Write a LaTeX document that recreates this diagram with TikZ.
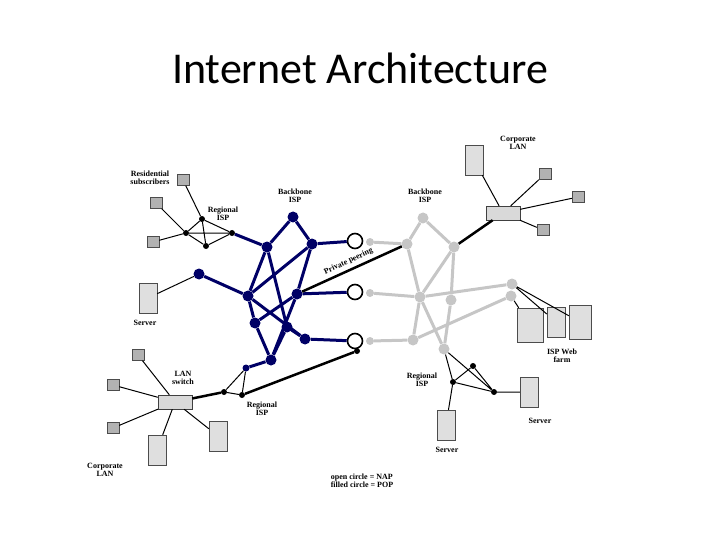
\documentclass[tikz,border=0pt]{standalone}
\usepackage{fontspec}
\newfontfamily\titlefont{Carlito}
\setmainfont{Liberation Serif}
\begin{document}
\begin{tikzpicture}[x=1pt,y=-1pt,
    blue line/.style = {line width = 3pt, draw = blue!40!black},
    gray line/.style = {line width = 3pt, draw = gray!45},
    thin line/.style = {line width = 1pt},
    bpop/.style = {circle, fill = blue!40!black, inner sep = 0pt, minimum size = 11pt},
    gpop/.style = {circle, fill = gray!45, inner sep = 0pt, minimum size = 11pt},
    kpop/.style = {circle, fill = black, inner sep = 0pt, minimum size = 6pt},
    nap/.style = {circle, draw, line width = 1.6pt, fill = white, inner sep = 0pt, minimum size = 15pt},
    lbl/.style = {font = \bfseries\fontsize{8}{8.5}\selectfont, align = center},
    pc/.style = {draw = gray!60!black, fill = gray!60, minimum width = 12pt, minimum height = 11pt, inner sep = 0pt},
    server/.style = {draw = gray!60!black, fill = gray!25, minimum width = 18pt, minimum height = 30pt, inner sep = 0pt},
    switch/.style = {draw = gray!50!black, fill = gray!30, minimum width = 34pt, minimum height = 14pt, inner sep = 0pt},
]
\useasboundingbox (0,0) rectangle (720,540);
\node (title) at (360,68) {\titlefont\fontsize{44}{48}\selectfont Internet Architecture};

% left regional ISP and residential subscribers
\node (pcA) [pc] at (183,180) {};
\node (pcB) [pc] at (156,203) {};
\node (pcC) [pc] at (153,242) {};
\node (ra) [kpop] at (202,219) {};
\node (rb) [kpop] at (186,233) {};
\node (rc) [kpop] at (206,246) {};
\node (rd) [kpop] at (232,233) {};
\node [lbl] at (150,178) {Residential\\subscribers};
\node [lbl] at (223,214) {Regional\\ISP};
\draw [thin line] (pcA) -- (ra) (pcB) -- (rb) (pcC) -- (rb)
    (ra) -- (rb) (ra) -- (rc) (ra) -- (rd) (rb) -- (rc) (rb) -- (rd) (rc) -- (rd);

% left server
\node (srvL) [server] at (148,298) {};
\node [lbl] at (145,323) {Server};

% blue backbone
\node [lbl] at (295,196) {Backbone\\ISP};
\node (b1) [bpop] at (293,217) {};
\node (b2) [bpop] at (267,247) {};
\node (b3) [bpop] at (312,244) {};
\node (b4) [bpop] at (199,274) {};
\node (b5) [bpop] at (248,296) {};
\node (b6) [bpop] at (297,294) {};
\node (b7) [bpop] at (255,323) {};
\node (b8) [bpop] at (287,327) {};
\node (b9) [bpop] at (305,339) {};
\node (b10) [bpop] at (271,360) {};
\node (b11) [kpop, fill = blue!40!black, minimum size = 7pt] at (246,368) {};
\draw [thin line] (srvL) -- (b4);

% gray backbone
\node [lbl] at (425,196) {Backbone\\ISP};
\node (g0a) [gpop, minimum size = 8pt] at (370,242) {};
\node (g0b) [gpop, minimum size = 8pt] at (370,293) {};
\node (g0c) [gpop, minimum size = 8pt] at (370,341) {};
\node (g1) [gpop] at (423,218) {};
\node (g2) [gpop] at (407,244) {};
\node (g3) [gpop] at (454,247) {};
\node (g4) [gpop] at (420,297) {};
\node (g5) [gpop] at (451,300) {};
\node (g6) [gpop] at (413,340) {};
\node (g7) [gpop] at (444,349) {};
\node (g8) [gpop] at (512,284) {};
\node (g9) [gpop] at (511,296) {};
\draw [gray line] (g0a) -- (g2) -- (g1) -- (g3) -- (g4) -- (g2)
    (g3) -- (g5) -- (g7) -- (g4) -- (g6) -- (g9)
    (g0b) -- (g4) -- (g8) (g0c) -- (g6);

% NAPs
\node (n1) [nap] at (355,241) {};
\node (n2) [nap] at (355,292) {};
\node (n3) [nap] at (355,341) {};

\draw [blue line] (rd) -- (b2) -- (b1) -- (b3) -- (n1)
    (b2) -- (b5) (b2) -- (b8) (b3) -- (b5) (b3) -- (b6)
    (b4) -- (b5) -- (b7) (b5) -- (b9) -- (n3) (b6) -- (n2)
    (b6) -- (b7) (b6) -- (b10) (b7) -- (b10) (b8) -- (b10) (b8) -- (b9)
    (b10) -- (b11);

% private peering
\draw [line width = 2.5pt] (b6) -- node [sloped, above, font = \bfseries\fontsize{8}{8}\selectfont] {Private peering} (g2);

% lower left corporate LAN
\node (sw1) [switch] at (175,402) {};
\node [lbl] at (183,378) {LAN\\switch};
\node (pcD) [pc] at (138,355) {};
\node (pcE) [pc] at (113,385) {};
\node (pcF) [pc] at (113,428) {};
\node (srvD) [server] at (157,450) {};
\node (srvE) [server] at (218,436) {};
\node [lbl] at (105,470) {Corporate\\LAN};
\node (la) [kpop] at (224,392) {};
\node (lb) [kpop] at (242,395) {};
\node (lc) [kpop] at (357,351) {};
\node [lbl] at (262,409) {Regional\\ISP};
\draw [thin line] (pcD) -- (sw1) (pcE) -- (sw1) (pcF) -- (sw1) (srvD) -- (sw1) (srvE) -- (sw1)
    (la) -- (b11) -- (lb) -- (la);
\draw [line width = 2.5pt] (sw1) -- (la) (lb) -- (lc);

% upper right corporate LAN
\node (sw2) [switch] at (503,213) {};
\node (srvF) [server] at (474,160) {};
\node (pcG) [pc] at (545,174) {};
\node (pcH) [pc] at (578,197) {};
\node (pcI) [pc] at (543,230) {};
\node [lbl] at (518,143) {Corporate\\LAN};
\draw [thin line] (srvF) -- (sw2) (pcG) -- (sw2) (pcH) -- (sw2) (pcI) -- (sw2);
\draw [line width = 2.5pt] (g3) -- (sw2);

% ISP web farm
\node (wf1) [server, minimum width = 26pt, minimum height = 34pt] at (530,325) {};
\node (wf2) [server, minimum width = 18pt] at (556,322) {};
\node (wf3) [server, minimum width = 22pt, minimum height = 34pt] at (580,322) {};
\node [lbl] at (562,356) {ISP Web\\farm};
\draw [thin line] (g9) -- (wf1) (g8) -- (wf2) (g8) -- (wf3);

% right regional ISP
\node (ja) [kpop] at (453,382) {};
\node (jb) [kpop] at (473,366) {};
\node (jc) [kpop] at (494,392) {};
\node [lbl] at (422,380) {Regional\\ISP};
\node (srvG) [server] at (529,392) {};
\node [lbl] at (540,421) {Server};
\node (srvH) [server] at (446,425) {};
\node [lbl] at (447,450) {Server};
\draw [thin line] (g7) -- (ja) (g7) -- (jc) (ja) -- (jb) -- (jc) -- (ja)
    (jc) -- (srvG) (ja) -- (srvH);

% legend
\node (legend) [lbl, align = left] at (362,481) {open circle = NAP\\filled circle = POP};
\end{tikzpicture}
\end{document}
